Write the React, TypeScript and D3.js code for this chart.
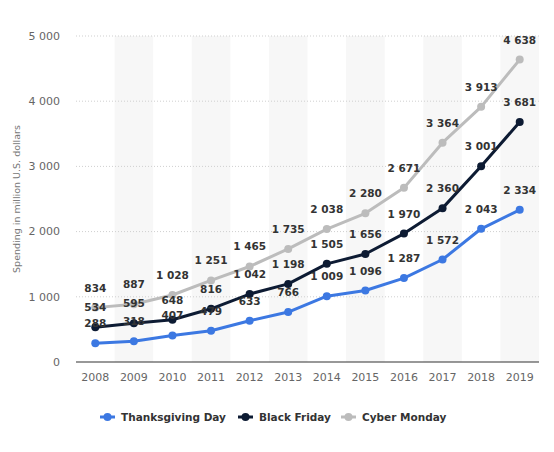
import React, { useEffect, useRef } from 'react';
import * as d3 from 'd3';

const years = ['2008', '2009', '2010', '2011', '2012', '2013', '2014', '2015', '2016', '2017', '2018', '2019'];
const thanksgiving = [288, 318, 407, 479, 633, 766, 1009, 1096, 1287, 1572, 2043, 2334];
const blackFriday = [534, 595, 648, 816, 1042, 1198, 1505, 1656, 1970, 2360, 3001, 3681];
const cyberMonday = [834, 887, 1028, 1251, 1465, 1735, 2038, 2280, 2671, 3364, 3913, 4638];
const yTicks = [0, 1000, 2000, 3000, 4000, 5000];

const seriesNames = ['Thanksgiving Day', 'Black Friday', 'Cyber Monday'];
const seriesColors = ['#3c78e2', '#0d1b33', '#bcbcbc'];

const W = 554;
const H = 452;
const FONT = '"DejaVu Sans", Verdana, sans-serif';

const App: React.FC = () => {
  const svgRef = useRef<SVGSVGElement>(null);

  useEffect(() => {
    const svg = d3.select(svgRef.current);
    svg.selectAll('*').remove();

    const margin = { top: 36, right: 15, bottom: 90, left: 76 };
    const innerW = W - margin.left - margin.right;
    const innerH = H - margin.top - margin.bottom;

    const x = d3.scaleBand<string>().domain(years).range([0, innerW]).padding(0);
    const y = d3.scaleLinear().domain([0, 5000]).range([innerH, 0]);
    const cx = (d: string) => x(d)! + x.bandwidth() / 2;
    const fmt = (v: number) => d3.format(',')(v).replace(/,/g, ' ');

    const g = svg.append('g').attr('transform', `translate(${margin.left},${margin.top})`);

    // alternating column shading
    g.selectAll('.band')
      .data(years.filter((_d, i) => i % 2 === 1))
      .enter().append('rect')
      .attr('x', d => x(d)!)
      .attr('y', 0)
      .attr('width', x.bandwidth())
      .attr('height', innerH)
      .attr('fill', '#f7f7f7');

    // gridlines
    g.selectAll('.grid')
      .data(yTicks.filter(t => t > 0))
      .enter().append('line')
      .attr('x1', 0)
      .attr('x2', innerW)
      .attr('y1', d => y(d))
      .attr('y2', d => y(d))
      .attr('stroke', '#cfcfcf')
      .attr('stroke-width', 1)
      .attr('stroke-dasharray', '1,2');

    // y axis labels
    g.selectAll('.ytick')
      .data(yTicks)
      .enter().append('text')
      .attr('x', -16)
      .attr('y', d => y(d))
      .attr('dy', '0.35em')
      .attr('text-anchor', 'end')
      .attr('font-family', FONT)
      .attr('font-size', 11)
      .attr('fill', '#666')
      .text(d => fmt(d));

    // x axis line
    g.append('line')
      .attr('x1', 0)
      .attr('x2', innerW)
      .attr('y1', innerH)
      .attr('y2', innerH)
      .attr('stroke', '#333')
      .attr('stroke-width', 1.2);

    g.selectAll('.xtick')
      .data(years)
      .enter().append('text')
      .attr('x', d => cx(d))
      .attr('y', innerH + 19)
      .attr('text-anchor', 'middle')
      .attr('font-family', FONT)
      .attr('font-size', 11)
      .attr('fill', '#666')
      .text(d => d);

    // y axis title
    svg.append('text')
      .attr('transform', `translate(20,${margin.top + innerH / 2}) rotate(-90)`)
      .attr('text-anchor', 'middle')
      .attr('font-family', FONT)
      .attr('font-size', 9.5)
      .attr('fill', '#777')
      .text('Spending in million U.S. dollars');

    const allSeries = [thanksgiving, blackFriday, cyberMonday];
    const line = d3.line<number>()
      .x((_d, i) => cx(years[i]))
      .y(d => y(d));

    allSeries.forEach((vals, si) => {
      g.append('path')
        .datum(vals)
        .attr('d', line)
        .attr('fill', 'none')
        .attr('stroke', seriesColors[si])
        .attr('stroke-width', 3)
        .attr('stroke-linejoin', 'round');

      g.selectAll(`.pt${si}`)
        .data(vals)
        .enter().append('circle')
        .attr('cx', (_d, i) => cx(years[i]))
        .attr('cy', d => y(d))
        .attr('r', 4)
        .attr('fill', seriesColors[si]);
    });

    allSeries.forEach(vals => {
      g.selectAll('.lbl')
        .data(vals)
        .enter().append('text')
        .attr('x', (_d, i) => cx(years[i]))
        .attr('y', d => y(d) - 16)
        .attr('text-anchor', 'middle')
        .attr('font-family', FONT)
        .attr('font-size', 10.5)
        .attr('font-weight', 'bold')
        .attr('fill', '#333')
        .text(d => fmt(d));
    });

    // legend
    const legendX = [100, 238, 341];
    const legend = svg.append('g').attr('transform', 'translate(0,417)');
    seriesNames.forEach((name, i) => {
      const item = legend.append('g').attr('transform', `translate(${legendX[i]},0)`);
      item.append('line')
        .attr('x1', 0).attr('x2', 15)
        .attr('y1', 0).attr('y2', 0)
        .attr('stroke', seriesColors[i])
        .attr('stroke-width', 3);
      item.append('circle')
        .attr('cx', 7.5).attr('cy', 0).attr('r', 4)
        .attr('fill', seriesColors[i]);
      item.append('text')
        .attr('x', 21)
        .attr('y', 0)
        .attr('dy', '0.35em')
        .attr('font-family', FONT)
        .attr('font-size', 10.5)
        .attr('font-weight', 'bold')
        .attr('fill', '#333')
        .text(name);
    });
  }, []);

  return (
    <svg
      ref={svgRef}
      width={W}
      height={H}
      style={{ position: 'absolute', left: 0, top: 0, background: '#fff' }}
    />
  );
};

export default App;
